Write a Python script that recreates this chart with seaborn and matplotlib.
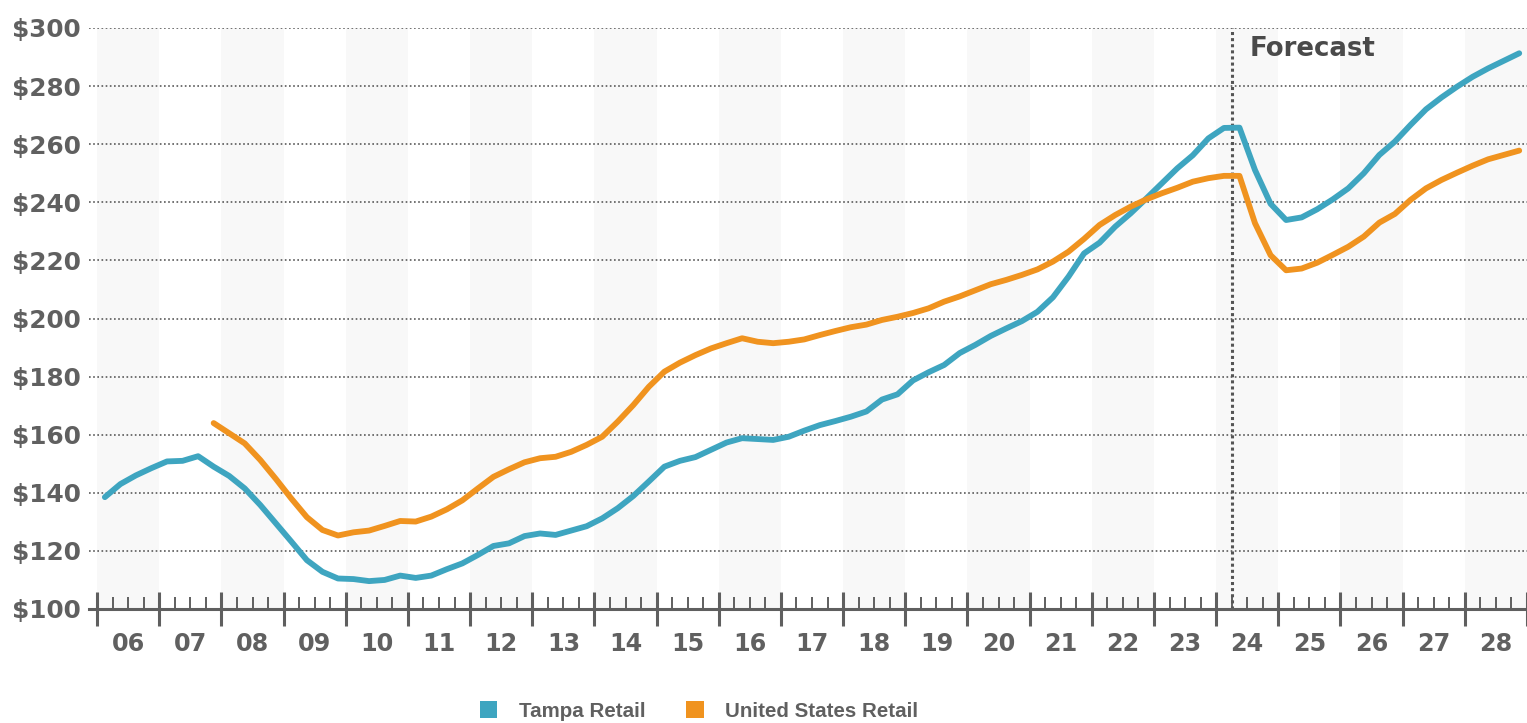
import numpy as np
import pandas as pd
import matplotlib
matplotlib.use("Agg")
import matplotlib.pyplot as plt
import seaborn as sns
from matplotlib.patches import Patch
from matplotlib.ticker import FuncFormatter

# Quarterly retail asking rent index, 2006 Q1 - 2028 Q4
first_year = 2006
last_year = 2028
year_labels = [f"{y % 100:02d}" for y in range(first_year, last_year + 1)]

tampa = [
    138.5, 143.0, 146.0, 148.5,   # 06
    150.8, 151.0, 152.6, 149.0,   # 07
    145.8, 141.5, 135.8, 129.5,   # 08
    123.2, 116.8, 112.8, 110.5,   # 09
    110.3, 109.6, 110.0, 111.5,   # 10
    110.7, 111.5, 113.7, 115.7,   # 11
    118.6, 121.7, 122.6, 125.1,   # 12
    126.0, 125.5, 127.0, 128.5,   # 13
    131.2, 134.7, 138.9, 143.9,   # 14
    149.0, 151.0, 152.3, 154.8,   # 15
    157.3, 158.8, 158.5, 158.2,   # 16
    159.3, 161.4, 163.3, 164.7,   # 17
    166.2, 168.0, 172.1, 173.9,   # 18
    178.7, 181.5, 184.0, 188.1,   # 19
    190.9, 194.0, 196.6, 199.1,   # 20
    202.3, 207.3, 214.4, 222.4,   # 21
    226.1, 231.6, 236.2, 241.3,   # 22
    246.5, 251.7, 256.2, 262.0,   # 23
    265.6, 265.7, 251.1, 239.5,   # 24
    233.9, 234.8, 237.6, 241.0,   # 25
    244.8, 250.0, 256.3, 260.9,   # 26
    266.6, 272.0, 276.1, 279.8,   # 27
    283.2, 286.1, 288.7, 291.3,   # 28
]

# United States series begins in 2007 Q4
us_start_year = 2007
us_start_quarter = 4
united_states = [
    164.0,                        # 07 Q4
    160.5, 157.0, 151.3, 144.8,   # 08
    138.0, 131.6, 127.2, 125.3,   # 09
    126.4, 127.0, 128.6, 130.3,   # 10
    130.1, 131.8, 134.3, 137.4,   # 11
    141.5, 145.5, 148.1, 150.5,   # 12
    151.9, 152.4, 154.1, 156.5,   # 13
    159.3, 164.5, 170.2, 176.5,   # 14
    181.7, 184.8, 187.4, 189.7,   # 15
    191.5, 193.2, 192.0, 191.5,   # 16
    192.0, 192.8, 194.3, 195.7,   # 17
    197.0, 197.9, 199.5, 200.6,   # 18
    201.9, 203.5, 205.8, 207.6,   # 19
    209.7, 211.8, 213.3, 215.0,   # 20
    216.9, 219.6, 223.0, 227.4,   # 21
    232.2, 235.6, 238.5, 241.0,   # 22
    243.1, 245.0, 247.1, 248.3,   # 23
    249.1, 249.1, 232.8, 221.8,   # 24
    216.6, 217.2, 219.2, 221.9,   # 25
    224.7, 228.2, 233.0, 236.0,   # 26
    240.8, 244.8, 247.7, 250.2,   # 27
    252.6, 254.8, 256.3, 257.8,   # 28
]

series_names = ["Tampa Retail", "United States Retail"]
series_colors = ["#3ea5c0", "#f0931f"]
forecast_start = 2024.25
y_ticks = list(range(100, 301, 20))


def quarter_positions(start_year, start_quarter, n):
    # place each quarter at the middle of its span on a fractional-year axis
    idx = np.arange(n) + (start_quarter - 1)
    return start_year + (idx + 0.5) / 4.0


df = pd.concat([
    pd.DataFrame({"t": quarter_positions(first_year, 1, len(tampa)),
                  "value": tampa, "series": series_names[0]}),
    pd.DataFrame({"t": quarter_positions(us_start_year, us_start_quarter, len(united_states)),
                  "value": united_states, "series": series_names[1]}),
], ignore_index=True)

sns.set_theme(style="white")
plt.rcParams["font.family"] = ["DejaVu Sans"]

text_color = "#606060"
axis_color = "#5f5f5f"

fig = plt.figure(figsize=(15.27, 7.23), dpi=100)
ax = fig.add_axes([89 / 1527, 114 / 723, 1438 / 1527, 581 / 723])

# alternating year bands
for y in range(first_year, last_year + 1, 2):
    ax.axvspan(y, y + 1, color="#f8f8f8", lw=0, zorder=0)

sns.lineplot(data=df, x="t", y="value", hue="series",
             palette=dict(zip(series_names, series_colors)),
             linewidth=4.2, legend=False, ax=ax, zorder=3)

ax.set_xlim(2005.87, 2029.0)
ax.set_ylim(100, 300)
ax.set_xlabel("")
ax.set_ylabel("")

# y axis: dotted gridlines and dollar labels
ax.set_yticks(y_ticks)
ax.yaxis.set_major_formatter(FuncFormatter(lambda v, _: f"${v:.0f}"))
ax.yaxis.grid(True, linestyle=(0, (1, 1.5)), color="#5a5a5a", lw=1.2)
ax.set_axisbelow(True)
ax.tick_params(axis="y", length=0, pad=6, labelsize=17.8, labelcolor=text_color)
for lab in ax.get_yticklabels():
    lab.set_fontweight("bold")

# x axis: year boundaries and quarter ticks
ax.set_xticks(range(first_year, last_year + 2))
ax.set_xticklabels([])
ax.set_xticks([y + q / 4 for y in range(first_year, last_year + 1) for q in (1, 2, 3)],
              minor=True)
ax.tick_params(axis="x", which="major", direction="inout", length=24.5, width=2.2,
               color=axis_color, bottom=True)
ax.tick_params(axis="x", which="minor", direction="in", length=8.6, width=1.4,
               color=axis_color, bottom=True)
for y, lab in zip(range(first_year, last_year + 1), year_labels):
    ax.text(y + 0.5, -0.0726, lab, transform=ax.get_xaxis_transform(),
            ha="center", va="baseline", fontsize=17.2, fontweight="bold",
            color=text_color)

for side in ("left", "top", "right"):
    ax.spines[side].set_visible(False)
ax.spines["bottom"].set_color(axis_color)
ax.spines["bottom"].set_linewidth(2.2)
ax.spines["bottom"].set_zorder(4)

# forecast marker
ax.axvline(forecast_start, color="#555555", lw=2.2, linestyle=(0, (1, 1)), zorder=2)
ax.text(forecast_start + 0.29, 290.4, "Forecast", fontsize=18.7, fontweight="bold",
        color="#4a4a4a", ha="left", va="baseline")

handles = [Patch(facecolor=c, edgecolor="none", label=n)
           for n, c in zip(series_names, series_colors)]
leg = fig.legend(handles=handles, loc="center", bbox_to_anchor=(699 / 1527, 12 / 723),
                 ncol=2, frameon=False,
                 prop={"family": ["Liberation Sans"], "weight": "bold", "size": 14.8},
                 handlelength=0.85, handleheight=0.85, handletextpad=1.05,
                 columnspacing=2.0, borderpad=0, borderaxespad=0)
for t in leg.get_texts():
    t.set_color(text_color)

fig.savefig("out.png", dpi=100)
